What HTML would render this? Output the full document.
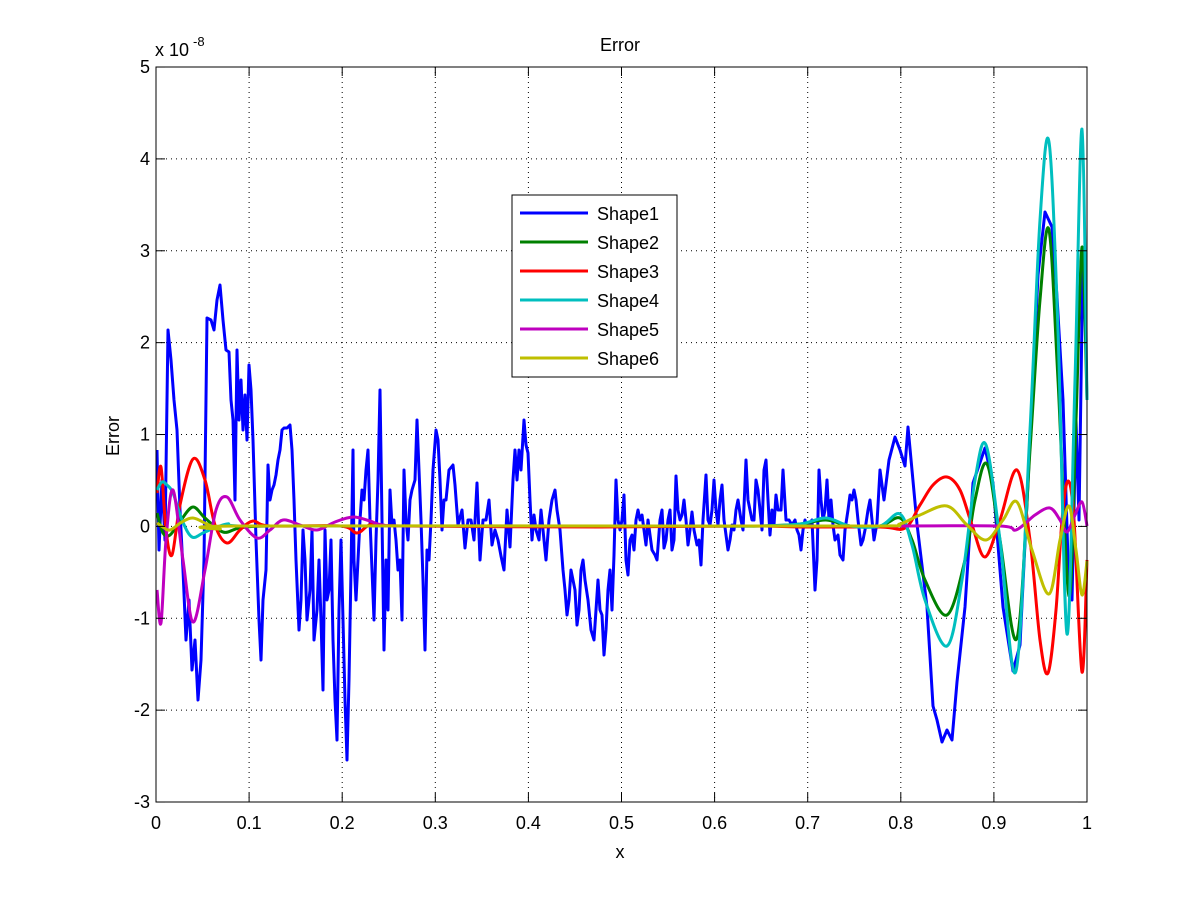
<!DOCTYPE html>
<html><head><meta charset="utf-8"><style>
html,body{margin:0;padding:0;background:#fff;}
svg{display:block;font-family:"Liberation Sans",sans-serif;}
</style></head><body>
<svg id="s" width="1201" height="901" viewBox="0 0 1201 901" xmlns="http://www.w3.org/2000/svg">
<rect width="1201" height="901" fill="#fff"/>
<rect x="156" y="67" width="931" height="735" fill="#fff"/>
<g id="grid" stroke="#000" stroke-width="1" stroke-dasharray="1,4"></g>
<g id="series" fill="none" stroke-width="3" stroke-linejoin="round"></g>
<rect x="156" y="67" width="931" height="735" fill="none" stroke="#000" stroke-width="1"/>
<g id="ticks" stroke="#000" stroke-width="1"></g>
<g id="labels" font-size="18" fill="#000"></g>
<text x="620" y="51" font-size="18" text-anchor="middle">Error</text>
<text x="620" y="858" font-size="18" text-anchor="middle">x</text>
<text transform="translate(119,436) rotate(-90)" font-size="18" text-anchor="middle">Error</text>
<text x="155" y="56" font-size="18">x 10</text>
<text x="193" y="46" font-size="13">-8</text>
<g>
<rect x="512" y="195" width="165" height="182" fill="#fff" stroke="#000"/>
<g stroke-width="3">
<line x1="520" y1="213" x2="588" y2="213" stroke="#0000ff"/>
<line x1="520" y1="242" x2="588" y2="242" stroke="#008000"/>
<line x1="520" y1="271" x2="588" y2="271" stroke="#ff0000"/>
<line x1="520" y1="300" x2="588" y2="300" stroke="#00bfbf"/>
<line x1="520" y1="329" x2="588" y2="329" stroke="#bf00bf"/>
<line x1="520" y1="358" x2="588" y2="358" stroke="#bfbf00"/>
</g>
<g font-size="18">
<text x="597" y="220">Shape1</text>
<text x="597" y="249">Shape2</text>
<text x="597" y="278">Shape3</text>
<text x="597" y="307">Shape4</text>
<text x="597" y="336">Shape5</text>
<text x="597" y="365">Shape6</text>
</g>
</g>
</svg>
<script>
(function(){
var NS="http://www.w3.org/2000/svg";
function el(p,t,a,txt){var e=document.createElementNS(NS,t);for(var k in a)e.setAttribute(k,a[k]);if(txt!==undefined)e.textContent=txt;document.getElementById(p).appendChild(e);}
var X0=156,X1=1087,Y0=802,Y1=67;
function px(v){return X0+v*(X1-X0);}
function py(v){return 526.4-v*91.875;}
for(var i=0;i<=10;i++){var x=px(i/10);
 if(i>0&&i<10)el("grid","line",{x1:x,y1:Y1,x2:x,y2:Y0});
 el("ticks","line",{x1:x,y1:Y0,x2:x,y2:Y0-9});el("ticks","line",{x1:x,y1:Y1,x2:x,y2:Y1+9});
 var lab=i==0?"0":i==10?"1":(i/10).toFixed(1);
 el("labels","text",{x:x,y:829,"text-anchor":"middle"},lab);}
for(var v=-3;v<=5;v++){var y=py(v);
 if(v>-3&&v<5)el("grid","line",{x1:X0,y1:y,x2:X1,y2:y});
 el("ticks","line",{x1:X0,y1:y,x2:X0+9,y2:y});el("ticks","line",{x1:X1,y1:y,x2:X1-9,y2:y});
 el("labels","text",{x:150,y:y+6,"text-anchor":"end"},String(v));}
function smooth(p){var d="M"+p[0][0]+","+p[0][1];
 for(var i=0;i<p.length-1;i++){var a=p[i-1]||p[i],b=p[i],c=p[i+1],e=p[i+2]||c;
  d+=" C"+(b[0]+(c[0]-a[0])/6).toFixed(1)+","+(b[1]+(c[1]-a[1])/6).toFixed(1)+" "+(c[0]-(e[0]-b[0])/6).toFixed(1)+","+(c[1]-(e[1]-b[1])/6).toFixed(1)+" "+c[0]+","+c[1];}
 return d;}
function poly(p){return "M"+p.map(function(q){return q[0]+","+q[1];}).join(" L");}
var B=[[157,450],[159,550],[162,480],[165,540],[168,330],[171,360],[174,400],[177,430],[180,510],[183,570],[186,640],[189,600],[192,670],[195,640],[198,700],[201,660],[204,560],[207,318],[211,320],[214,330],[217,300],[220,285],[223,320],[226,350],[229,352],[231,400],[233,420],[235,500],[237,350],[239,420],[241,380],[243,430],[245,395],[247,440],[249,365],[251,390],[253,440],[256,540],[259,620],[261,660],[263,600],[266,570],[268,465],[270,500],[272,490],[274,485],[276,475],[278,460],[280,450],[282,430],[284,428],[287,428],[290,425],[292,450],[294,500],[296,560],[299,630],[301,600],[303,530],[305,560],[307,620],[310,590],[312,530],[314,640],[317,610],[319,560],[321,620],[323,690],[325,530],[327,600],[329,590],[331,540],[333,640],[335,700],[337,740],[339,610],[341,540],[343,620],[345,700],[347,760],[349,680],[351,570],[353,450],[354,560],[356,600],[358,560],[360,520],[362,490],[364,500],[366,470],[368,450],[370,520],[372,570],[374,620],[376,540],[378,480],[380,390],[382,520],[384,650],[386,560],[388,610],[390,490],[392,525],[394,520],[396,540],[398,570],[400,560],[402,620],[404,470],[406,520],[408,540],[410,500],[412,490],[415,480],[417,420],[419,470],[421,520],[423,580],[425,650],[427,550],[429,560],[431,520],[433,470],[436,430],[438,440],[440,480],[442,530],[444,500],[446,500],[449,470],[453,465],[455,485],[458,525],[462,510],[465,548],[468,520],[471,520],[474,540],[477,483],[480,560],[483,520],[486,520],[489,500],[492,545],[495,530],[498,540],[501,556],[504,570],[507,510],[510,547],[513,480],[515,450],[517,480],[519,450],[521,470],[524,420],[526,445],[528,453],[530,500],[532,540],[534,515],[536,530],[539,540],[541,510],[543,530],[546,560],[549,520],[552,500],[555,490],[557,510],[560,530],[563,570],[565,590],[567,615],[569,600],[571,570],[573,580],[575,590],[577,625],[579,610],[581,570],[583,560],[585,580],[588,600],[591,630],[594,640],[596,610],[598,580],[600,610],[602,615],[604,655],[606,630],[608,590],[610,570],[612,610],[614,555],[616,480],[618,520],[620,530],[622,520],[624,495],[626,560],[628,575],[630,540],[632,535],[634,550],[636,520],[638,510],[640,520],[642,515],[644,530],[646,545],[648,520],[650,535],[652,550],[655,555],[657,560],[660,520],[662,510],[664,548],[666,540],[668,520],[670,510],[672,550],[674,540],[676,476],[678,510],[680,520],[682,515],[684,500],[686,520],[688,545],[690,530],[692,512],[694,530],[697,545],[699,540],[701,565],[703,520],[706,475],[708,520],[710,525],[712,510],[714,480],[716,510],[718,525],[720,500],[722,485],[724,520],[726,535],[728,550],[730,540],[732,525],[734,530],[736,510],[738,500],[741,520],[743,530],[746,460],[748,500],[750,510],[752,520],[754,520],[756,480],[758,490],[760,510],[762,530],[764,470],[766,460],[768,500],[770,535],[772,510],[774,525],[776,495],[778,510],[781,510],[783,470],[786,520],[789,520],[792,525],[795,520],[797,530],[799,535],[801,550],[803,530],[805,520],[807,527],[810,523],[812,520],[815,590],[817,560],[819,470],[821,500],[823,520],[825,510],[827,480],[829,520],[831,500],[833,525],[835,540],[838,535],[840,555],[843,560],[845,530],[848,510],[850,495],[852,500],[854,490],[856,500],[858,520],[861,545],[863,540],[865,530],[868,510],[870,500],[872,520],[874,540],[877,523],[880,470],[884,500],[889,460],[895,437],[900,450],[905,466],[908,427],[917,524],[927,607],[933,706],[937,720],[942,742],[947,730],[952,740],[957,682],[965,607],[973,483],[985,448],[993,483],[1003,607],[1013,671],[1020,645],[1030,441],[1038,275],[1045,212],[1052,227],[1057,297],[1063,400],[1068,560],[1072,600],[1076,420],[1079,520],[1083,250],[1086,330]];
var G=[[157,513],[163,533],[170,535],[181,520],[193,507],[205,518],[223,532],[240,528],[270,526],[400,526],[700,526],[760,526],[800,524],[826,520],[850,526],[880,526],[900,518],[912,540],[925,580],[947,615],[965,560],[975,500],[987,464],[1000,540],[1017,638],[1030,450],[1040,300],[1049,230],[1058,380],[1069,596],[1076,420],[1082,247],[1087,400]];
var R=[[157,493],[161,467],[166,530],[172,555],[180,505],[193,459],[205,480],[215,525],[227,543],[240,530],[253,521],[270,526],[340,526],[357,533],[372,524],[400,526],[600,527],[750,526],[800,527],[880,527],[905,528],[920,505],[933,485],[947,477],[960,490],[972,525],[985,557],[1000,520],[1017,470],[1030,540],[1040,640],[1048,673],[1056,610],[1062,520],[1068,481],[1074,520],[1082,672],[1087,560]];
var C=[[157,490],[162,482],[167,485],[173,493],[182,520],[192,537],[205,532],[227,524],[245,526],[400,526],[700,526],[760,526],[800,524],[826,518],[850,526],[880,526],[900,514],[912,545],[925,600],[947,646],[962,580],[975,480],[986,445],[1000,540],[1016,671],[1030,430],[1040,220],[1049,142],[1058,330],[1067,634],[1075,380],[1082,129],[1087,400]];
var M=[[157,590],[161,623],[166,540],[173,490],[183,560],[193,622],[205,570],[216,510],[227,497],[240,520],[257,538],[270,530],[283,520],[300,525],[317,530],[335,522],[353,517],[370,521],[383,525],[420,526],[700,526],[900,526],[1000,526],[1016,530],[1035,515],[1050,508],[1060,520],[1067,532],[1075,515],[1082,502],[1087,526]];
var Y=[[157,523],[163,527],[170,530],[182,522],[193,518],[207,524],[220,529],[240,526],[700,526],[880,526],[900,524],[920,515],[947,506],[967,525],[986,540],[1003,520],[1017,502],[1032,550],[1049,594],[1060,540],[1069,506],[1076,550],[1082,595],[1087,561]];
function add(d,c){el("series","path",{d:d,stroke:c});}
add(poly(B),"#0000ff");
add(smooth(G),"#008000");
add(smooth(R),"#ff0000");
add(smooth(C),"#00bfbf");
add(smooth(M),"#bf00bf");
add(smooth(Y),"#bfbf00");
})();
</script>
</body></html>
